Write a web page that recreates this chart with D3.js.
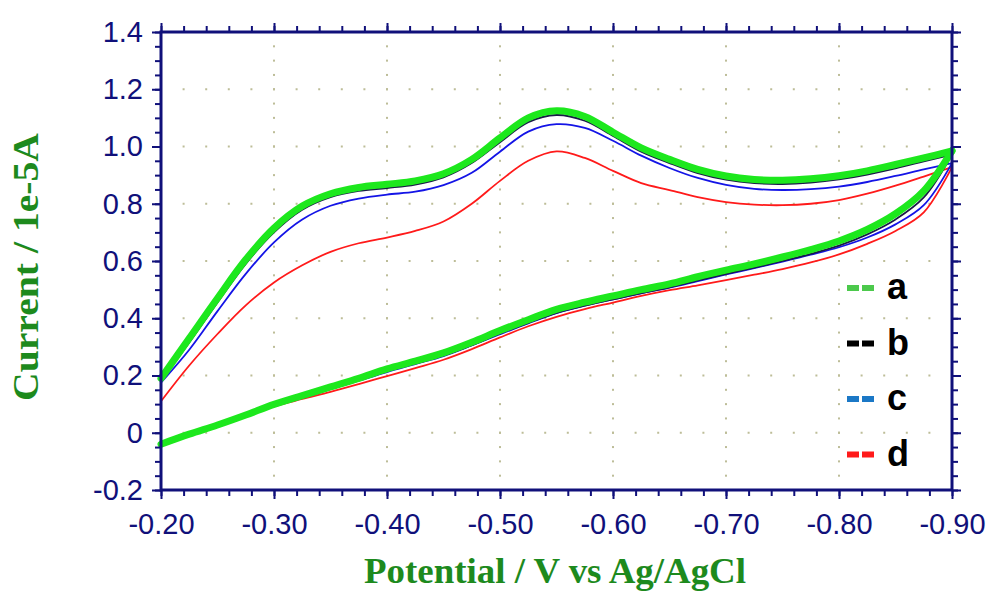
<!DOCTYPE html>
<html>
<head>
<meta charset="utf-8">
<script src="https://cdn.jsdelivr.net/npm/d3@7"></script>
<style>
  body { margin: 0; background: #fff; }
  svg { display: block; }
</style>
</head>
<body>
<div id="chart"></div>
<script>
// potential (V vs Ag/AgCl), shared by every branch
const potentials = [-0.200, -0.225, -0.250, -0.275, -0.300, -0.325, -0.350, -0.375, -0.400, -0.425,
  -0.450, -0.475, -0.500, -0.525, -0.550, -0.575, -0.600, -0.625, -0.650, -0.675,
  -0.700, -0.725, -0.750, -0.775, -0.800, -0.825, -0.850, -0.875, -0.900];

// current (1e-5 A), forward (upper) and reverse (lower) branches
const aUpper = [0.19, 0.33, 0.47, 0.605, 0.715, 0.792, 0.835, 0.857, 0.868, 0.88,
  0.905, 0.955, 1.03, 1.10, 1.125, 1.105, 1.05, 0.995, 0.955, 0.92,
  0.897, 0.885, 0.882, 0.887, 0.898, 0.915, 0.937, 0.96, 0.985];
const aLower = [-0.04, -0.005, 0.027, 0.062, 0.099, 0.13, 0.16, 0.19, 0.223, 0.25,
  0.279, 0.316, 0.357, 0.395, 0.431, 0.456, 0.478, 0.50, 0.52, 0.545,
  0.568, 0.59, 0.614, 0.64, 0.67, 0.71, 0.765, 0.845, 0.985];

const bUpper = [0.18, 0.315, 0.455, 0.59, 0.7, 0.779, 0.823, 0.845, 0.855, 0.867,
  0.892, 0.942, 1.015, 1.085, 1.11, 1.09, 1.037, 0.982, 0.942, 0.907,
  0.884, 0.872, 0.869, 0.874, 0.885, 0.902, 0.924, 0.948, 0.972];
const bLower = [-0.042, -0.008, 0.024, 0.058, 0.094, 0.124, 0.153, 0.183, 0.215, 0.242,
  0.27, 0.306, 0.347, 0.384, 0.419, 0.444, 0.466, 0.488, 0.508, 0.532,
  0.555, 0.577, 0.6, 0.625, 0.654, 0.693, 0.745, 0.822, 0.972];

const cUpper = [0.175, 0.29, 0.425, 0.555, 0.665, 0.745, 0.793, 0.818, 0.832, 0.842,
  0.865, 0.908, 0.982, 1.052, 1.078, 1.065, 1.02, 0.968, 0.925, 0.89,
  0.866, 0.852, 0.848, 0.851, 0.86, 0.876, 0.897, 0.92, 0.942];
const cLower = [-0.042, -0.008, 0.024, 0.058, 0.092, 0.122, 0.152, 0.182, 0.212, 0.24,
  0.268, 0.305, 0.344, 0.382, 0.418, 0.444, 0.466, 0.487, 0.507, 0.53,
  0.553, 0.575, 0.598, 0.622, 0.648, 0.682, 0.728, 0.795, 0.942];

const dUpper = [0.11, 0.235, 0.345, 0.445, 0.525, 0.585, 0.632, 0.662, 0.682, 0.705,
  0.738, 0.80, 0.88, 0.95, 0.983, 0.96, 0.915, 0.872, 0.848, 0.823,
  0.806, 0.797, 0.795, 0.8, 0.813, 0.835, 0.863, 0.895, 0.928];
const dLower = [-0.04, -0.008, 0.025, 0.058, 0.092, 0.118, 0.143, 0.17, 0.198, 0.226,
  0.255, 0.292, 0.333, 0.372, 0.405, 0.432, 0.455, 0.478, 0.498, 0.515,
  0.533, 0.552, 0.572, 0.595, 0.623, 0.66, 0.705, 0.77, 0.928];

// ticks
const xMajor = [-0.2, -0.3, -0.4, -0.5, -0.6, -0.7, -0.8, -0.9];
const xTickLabels = ["-0.20", "-0.30", "-0.40", "-0.50", "-0.60", "-0.70", "-0.80", "-0.90"];
const yMajor = [-0.2, 0, 0.2, 0.4, 0.6, 0.8, 1.0, 1.2, 1.4];
const yTickLabels = ["-0.2", "0", "0.2", "0.4", "0.6", "0.8", "1.0", "1.2", "1.4"];

const legendNames = ["a", "b", "c", "d"];
const legendColors = ["#4cc94c", "#000000", "#1b78c6", "#ff1a1a"];

function cvChart(container) {
  const width = 987, height = 592;
  const left = 161, right = 952, top = 32, bottom = 490;
  const navy = "#10107a";

  const svg = d3.select(container).append("svg")
    .attr("width", width)
    .attr("height", height);

  const x = d3.scaleLinear().domain([-0.2, -0.9]).range([left, right]);
  const y = d3.scaleLinear().domain([-0.2, 1.4]).range([bottom, top]);

  const xMinor = d3.range(0, 36).map(i => -0.2 - i * 0.02);
  const yMinor = d3.range(0, 33).map(i => -0.2 + i * 0.05);

  // dotted grid: dots at minor positions along major lines
  const grid = svg.append("g").attr("fill", "#bdbd98");
  xMajor.slice(1, -1).forEach(v => {
    yMinor.forEach(u => {
      grid.append("rect").attr("x", x(v) - 1).attr("y", y(u) - 1).attr("width", 2).attr("height", 2);
    });
  });
  yMajor.slice(1, -1).forEach(u => {
    xMinor.forEach(v => {
      grid.append("rect").attr("x", x(v) - 1).attr("y", y(u) - 1).attr("width", 2).attr("height", 2);
    });
  });

  // curves
  const line = d3.line()
    .x((d, i) => x(potentials[i]))
    .y(d => y(d))
    .curve(d3.curveCatmullRom.alpha(0.5));

  const series = [
    {up: dUpper, low: dLower, color: "#ff1a1a", w: 1.8},
    {up: cUpper, low: cLower, color: "#1414e6", w: 1.8},
    {up: bUpper, low: bLower, color: "#1a1a48", w: 1.8},
    {up: aUpper, low: aLower, color: "#1de81d", w: 7}
  ];
  series.forEach(s => {
    [s.up, s.low].forEach(arr => {
      svg.append("path")
        .attr("d", line(arr))
        .attr("fill", "none")
        .attr("stroke", s.color)
        .attr("stroke-width", s.w)
        .attr("stroke-linejoin", "round")
        .attr("stroke-linecap", "round");
    });
  });

  // axes
  const styleAxis = g => {
    g.select(".domain").remove();
    g.selectAll("line").attr("stroke", navy).attr("stroke-width", 2);
    g.selectAll("text").attr("fill", navy)
      .style("font-family", "'Liberation Sans', Arial, sans-serif")
      .style("font-size", "29px");
  };

  svg.append("g").attr("transform", `translate(0,${bottom})`)
    .call(d3.axisBottom(x).tickValues(xMinor).tickSize(6).tickSizeOuter(0).tickFormat(""))
    .call(styleAxis);
  svg.append("g").attr("transform", `translate(0,${bottom})`)
    .call(d3.axisBottom(x).tickValues(xMajor).tickSize(9).tickSizeOuter(0).tickPadding(14)
      .tickFormat((d, i) => xTickLabels[i]))
    .call(styleAxis);

  svg.append("g").attr("transform", `translate(0,${top})`)
    .call(d3.axisTop(x).tickValues(xMinor).tickSize(6).tickSizeOuter(0).tickFormat(""))
    .call(styleAxis);
  svg.append("g").attr("transform", `translate(0,${top})`)
    .call(d3.axisTop(x).tickValues(xMajor).tickSize(9).tickSizeOuter(0).tickFormat(""))
    .call(styleAxis);

  svg.append("g").attr("transform", `translate(${left},0)`)
    .call(d3.axisLeft(y).tickValues(yMinor).tickSize(6).tickSizeOuter(0).tickFormat(""))
    .call(styleAxis);
  svg.append("g").attr("transform", `translate(${left},0)`)
    .call(d3.axisLeft(y).tickValues(yMajor).tickSize(9).tickSizeOuter(0).tickPadding(9)
      .tickFormat((d, i) => yTickLabels[i]))
    .call(styleAxis);

  svg.append("g").attr("transform", `translate(${right},0)`)
    .call(d3.axisRight(y).tickValues(yMinor).tickSize(6).tickSizeOuter(0).tickFormat(""))
    .call(styleAxis);
  svg.append("g").attr("transform", `translate(${right},0)`)
    .call(d3.axisRight(y).tickValues(yMajor).tickSize(9).tickSizeOuter(0).tickFormat(""))
    .call(styleAxis);

  // frame
  svg.append("rect")
    .attr("x", left).attr("y", top)
    .attr("width", right - left).attr("height", bottom - top)
    .attr("fill", "none").attr("stroke", navy).attr("stroke-width", 3);

  // axis titles
  const titleFont = "'Liberation Serif', 'Times New Roman', serif";
  svg.append("text")
    .attr("x", 555).attr("y", 583)
    .attr("text-anchor", "middle")
    .attr("textLength", 382).attr("lengthAdjust", "spacingAndGlyphs")
    .style("font-family", titleFont).style("font-weight", "bold").style("font-size", "36px")
    .attr("fill", "#1d8a1d")
    .text("Potential / V vs Ag/AgCl");
  svg.append("text")
    .attr("transform", "translate(38,267) rotate(-90)")
    .attr("text-anchor", "middle")
    .attr("textLength", 268).attr("lengthAdjust", "spacingAndGlyphs")
    .style("font-family", titleFont).style("font-weight", "bold").style("font-size", "36px")
    .attr("fill", "#1d8a1d")
    .text("Current / 1e-5A");

  // legend
  const legend = svg.append("g");
  legendNames.forEach((name, i) => {
    const ly = 288 + i * 55.5;
    legend.append("line")
      .attr("x1", 847).attr("x2", 874).attr("y1", ly).attr("y2", ly)
      .attr("stroke", legendColors[i]).attr("stroke-width", 6)
      .attr("stroke-dasharray", "12,3");
    legend.append("text")
      .attr("x", 887).attr("y", ly + 11)
      .style("font-family", "'Liberation Sans', Arial, sans-serif")
      .style("font-weight", "bold").style("font-size", "36px")
      .attr("fill", "#000")
      .text(name);
  });
}

cvChart(document.getElementById("chart"));
</script>
</body>
</html>
